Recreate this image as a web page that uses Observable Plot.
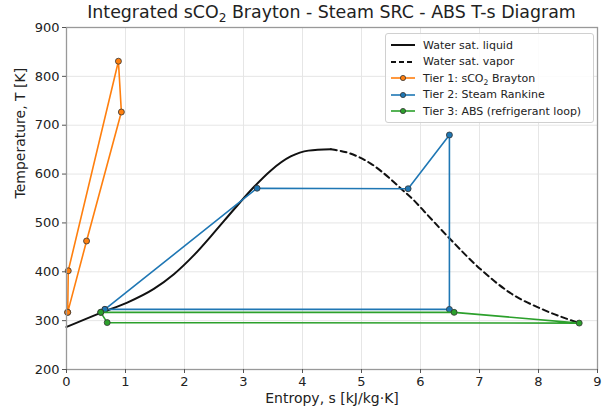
<!DOCTYPE html>
<html>
<head>
<meta charset="utf-8">
<script src="https://cdn.jsdelivr.net/npm/d3@7"></script>
<script src="https://cdn.jsdelivr.net/npm/@observablehq/plot@0.6"></script>
<style>
  body { margin: 0; background: #fff; font-family: "DejaVu Sans", sans-serif; }
  #wrap { position: relative; width: 606px; height: 414px; }
  #title { position: absolute; left: 66px; width: 531px; top: 2px; text-align: center; font-size: 17.4px; color: #222; }
  #legend { position: absolute; left: 385px; top: 33px; width: 207px; height: 88px; background: rgba(255,255,255,0.85);
            border: 1px solid #d0d0d0; border-radius: 3px; font-size: 11px; color: #222; }
  .row { position: absolute; left: 4px; height: 16px; display: flex; align-items: center; }
  .row svg { margin-right: 7px; }
  sub { font-size: 0.7em; line-height: 0; }
</style>
</head>
<body>
<div id="wrap"></div>
<script>
// Saturation curves (approximate)
const satLiqS = [0, 0.58, 1.03, 1.48, 1.82, 2.16, 2.50, 2.84, 3.18, 3.46, 3.80, 4.10, 4.48];
const satLiqT = [287, 316, 337, 365, 395, 434, 480, 528, 574, 607, 636, 648, 651];
const satVapS = [4.48, 4.81, 5.15, 5.49, 5.69, 5.89, 6.06, 6.51, 7.02, 7.53, 8.09, 8.69];
const satVapT = [651, 642, 622, 590, 568, 546, 524, 466, 405, 356, 322, 295];

// Tier 1: sCO2 Brayton
const braytonS = [0.02, 0.03, 0.88, 0.93, 0.34, 0.02];
const braytonT = [317, 402, 831, 727, 463, 317];
// Tier 2: Steam Rankine
const rankineS = [0.65, 3.23, 5.79, 6.49, 6.49, 0.65];
const rankineT = [323, 571, 570, 680, 323, 323];
// Tier 3: ABS
const absS = [0.58, 6.57, 8.69, 0.69, 0.58];
const absT = [317, 317, 295, 296, 317];

const xTicks = [0, 1, 2, 3, 4, 5, 6, 7, 8, 9];
const yTicks = [200, 300, 400, 500, 600, 700, 800, 900];

const seriesNames = ["Water sat. liquid", "Water sat. vapor", "Tier 1: sCO<sub>2</sub> Brayton", "Tier 2: Steam Rankine", "Tier 3: ABS (refrigerant loop)"];
const colors = { brayton: "#ff7f0e", rankine: "#1f77b4", abs: "#2ca02c" };

const toRows = (S, T) => S.map((s, i) => ({ s, T: T[i] }));
const liq = toRows(satLiqS, satLiqT);
const vap = toRows(satVapS, satVapT);
const bray = toRows(braytonS, braytonT);
const rank = toRows(rankineS, rankineT);
const abs = toRows(absS, absT);

const lineOpts = (c) => ({ x: "s", y: "T", stroke: c, strokeWidth: 1.6 });
const dotOpts = (c) => ({ x: "s", y: "T", fill: c, stroke: "#333", strokeWidth: 0.8, r: 3 });

const chart = Plot.plot({
  width: 606,
  height: 414,
  marginLeft: 66,
  marginRight: 9,
  marginTop: 27,
  marginBottom: 45,
  style: { fontFamily: "DejaVu Sans, sans-serif", fontSize: "13px", color: "#222", background: "#fff" },
  x: { domain: [0, 9] },
  y: { domain: [200, 900] },
  marks: [
    Plot.gridX(xTicks, { stroke: "#e6e6e6", strokeOpacity: 1, strokeWidth: 1 }),
    Plot.gridY(yTicks, { stroke: "#e6e6e6", strokeOpacity: 1, strokeWidth: 1 }),
    Plot.line(liq, { x: "s", y: "T", stroke: "#111", strokeWidth: 2, curve: "monotone-x" }),
    Plot.line(vap, { x: "s", y: "T", stroke: "#111", strokeWidth: 2, curve: "monotone-x", strokeDasharray: "6,4" }),
    Plot.line(bray, lineOpts(colors.brayton)),
    Plot.dot(bray, dotOpts(colors.brayton)),
    Plot.line(rank, lineOpts(colors.rankine)),
    Plot.dot(rank, dotOpts(colors.rankine)),
    Plot.line(abs, lineOpts(colors.abs)),
    Plot.dot(abs, dotOpts(colors.abs)),
    Plot.frame({ stroke: "#999", strokeWidth: 1.3 }),
    Plot.axisX(xTicks, { label: null, tickSize: 4, tickPadding: 3, fontSize: 13, stroke: "#555" }),
    Plot.axisY(yTicks, { label: null, tickSize: 4, tickPadding: 3, fontSize: 13, stroke: "#555" }),
    Plot.text(["Entropy, s [kJ/kg·K]"], { frameAnchor: "bottom", dy: 33, fontSize: 14, fill: "#222" }),
    Plot.text(["Temperature, T [K]"], { frameAnchor: "left", dx: -46, rotate: -90, fontSize: 14, fill: "#222" })
  ]
});

const wrap = document.getElementById("wrap");
wrap.appendChild(chart);

const title = document.createElement("div");
title.id = "title";
title.innerHTML = "Integrated sCO<sub>2</sub> Brayton - Steam SRC - ABS T-s Diagram";
wrap.appendChild(title);

const legend = document.createElement("div");
legend.id = "legend";
const styles = [
  { c: "#111", dash: null, dot: false },
  { c: "#111", dash: "5,3", dot: false },
  { c: colors.brayton, dash: null, dot: true },
  { c: colors.rankine, dash: null, dot: true },
  { c: colors.abs, dash: null, dot: true }
];
seriesNames.forEach((name, i) => {
  const st = styles[i];
  const row = document.createElement("div");
  row.className = "row";
  row.style.top = (3 + i * 16.6) + "px";
  row.innerHTML = `<svg width="26" height="10"><line x1="1" x2="25" y1="5" y2="5" stroke="${st.c}" stroke-width="${st.dot ? 1.6 : 2}" ${st.dash ? `stroke-dasharray="${st.dash}"` : ""}/>` +
    (st.dot ? `<circle cx="13" cy="5" r="2.6" fill="${st.c}" stroke="#333" stroke-width="0.8"/>` : "") +
    `</svg><span>${name}</span>`;
  legend.appendChild(row);
});
wrap.appendChild(legend);
</script>
</body>
</html>
